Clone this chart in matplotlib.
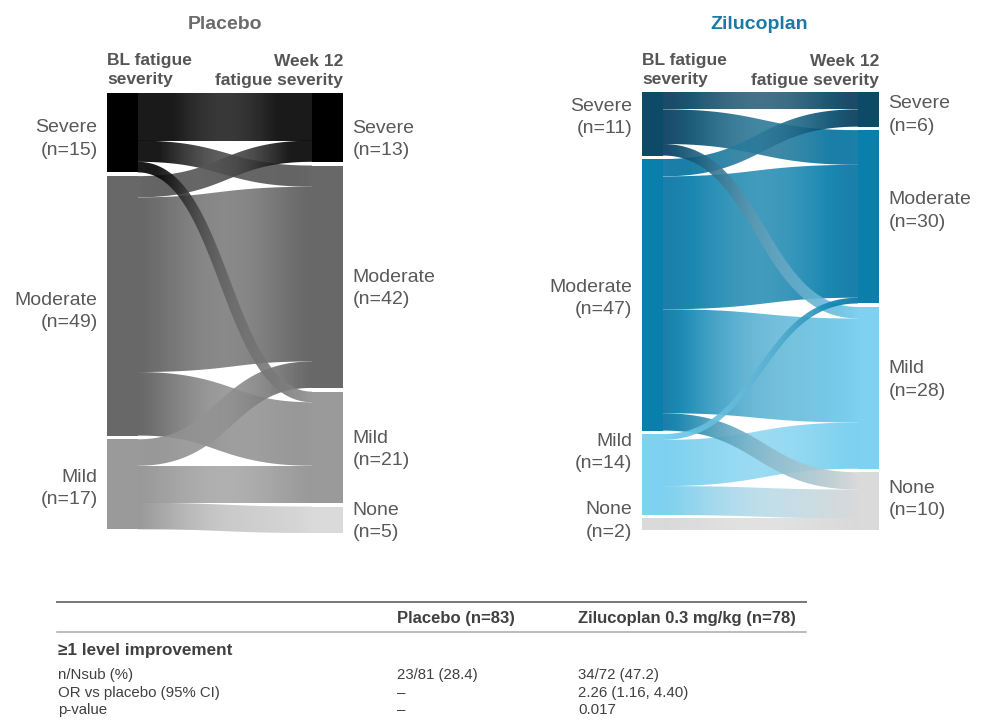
import numpy as np
import matplotlib
matplotlib.use("Agg")
import matplotlib.pyplot as plt
from matplotlib.patches import Polygon, Rectangle
from matplotlib.colors import to_rgb
from matplotlib.lines import Line2D

plt.rcParams["font.family"] = ["Liberation Sans", "DejaVu Sans"]

# ---------------- data ----------------
placebo_bl_levels = ["Severe", "Moderate", "Mild"]
placebo_bl_n = [15, 49, 17]
placebo_wk12_levels = ["Severe", "Moderate", "Mild", "None"]
placebo_wk12_n = [13, 42, 21, 5]
placebo_src = ["Severe", "Severe", "Severe", "Moderate", "Moderate", "Moderate", "Mild", "Mild", "Mild"]
placebo_tgt = ["Severe", "Moderate", "Mild", "Severe", "Moderate", "Mild", "Moderate", "Mild", "None"]
placebo_val = [9, 4, 2, 4, 33, 12, 5, 7, 5]

zil_bl_levels = ["Severe", "Moderate", "Mild", "None"]
zil_bl_n = [11, 47, 14, 2]
zil_wk12_levels = ["Severe", "Moderate", "Mild", "None"]
zil_wk12_n = [6, 30, 28, 10]
zil_src = ["Severe", "Severe", "Severe", "Moderate", "Moderate", "Moderate", "Moderate",
           "Mild", "Mild", "Mild", "None"]
zil_tgt = ["Severe", "Moderate", "Mild", "Severe", "Moderate", "Mild", "None",
           "Moderate", "Mild", "None", "None"]
zil_val = [3, 6, 2, 3, 23, 18, 3, 1, 8, 5, 2]

table_cols = ["", "Placebo (n=83)", "Zilucoplan 0.3 mg/kg (n=78)"]
table_section = "\u22651 level improvement"
table_rows = [
    ["n/Nsub (%)", "23/81 (28.4)", "34/72 (47.2)"],
    ["OR vs placebo (95% CI)", "\u2013", "2.26 (1.16, 4.40)"],
    ["p-value", "\u2013", "0.017"],
]

# ---------------- styles ----------------
placebo_colors = {"Severe": "#000000", "Moderate": "#686868", "Mild": "#9a9a9a", "None": "#dadada"}
zil_colors = {"Severe": "#0d4a68", "Moderate": "#0a7fab", "Mild": "#7ed1f0", "None": "#dadada"}
LABEL_COLOR = "#595959"
HEAD_COLOR = "#555555"
TABLE_COLOR = "#404040"
LINK_ALPHA = 0.9
HIGHLIGHT = 0.22

W, H = 983, 725
fig = plt.figure(figsize=(W / 100, H / 100), dpi=100)

# full-figure overlay in pixel units for titles, headers and the table
ov = fig.add_axes([0, 0, 1, 1], zorder=0)
ov.set_xlim(0, W)
ov.set_ylim(H, 0)
ov.axis("off")


def px_axes(left, top, right, bottom):
    return fig.add_axes([left / W, 1 - bottom / H, (right - left) / W, (bottom - top) / H], zorder=1)


def link_color(c, a=LINK_ALPHA):
    # colour to paint so that, over white, the result shows c
    c = np.asarray(c)
    return np.clip((c - (1 - a)) / a, 0, 1)


def draw_sankey(ax, bl_levels, bl_n, wk_levels, wk_n, src, tgt, val, colors,
                node_w, gap, nudge_l, nudge_r):
    def stack(ns):
        pos, y = [], 0.0
        for n in ns:
            pos.append((y, y + n))
            y += n + gap
        return pos

    left = dict(zip(bl_levels, stack(bl_n)))
    right = dict(zip(wk_levels, stack(wk_n)))
    Htot = max(sum(bl_n) + gap * (len(bl_n) - 1), sum(wk_n) + gap * (len(wk_n) - 1))
    ax.set_xlim(0, 1)
    ax.set_ylim(Htot, 0)
    ax.axis("off")

    bb = ax.get_position()
    sx, sy = bb.width * W, bb.height * H / Htot

    ord_l = {k: i for i, k in enumerate(bl_levels)}
    ord_r = {k: i for i, k in enumerate(wk_levels)}
    links = list(zip(src, tgt, val))
    slot = {}
    off = {k: left[k][0] for k in bl_levels}
    for s in bl_levels:
        for a, b, v in sorted([l for l in links if l[0] == s], key=lambda l: ord_r[l[1]]):
            slot[(a, b)] = [off[s], None]
            off[s] += v
    off = {k: right[k][0] for k in wk_levels}
    for t in wk_levels:
        for a, b, v in sorted([l for l in links if l[1] == t], key=lambda l: ord_l[l[0]]):
            slot[(a, b)][1] = off[t]
            off[t] += v

    x0, x1 = node_w, 1 - node_w
    u = np.linspace(0, 1, 300)
    grad_t = np.linspace(0, 1, 256)
    for a, b, v in sorted(links, key=lambda l: -l[2]):
        ys, yt = slot[(a, b)]
        y0c, y1c = ys + v / 2, yt + v / 2
        P0 = np.array([x0 * sx, y0c * sy])
        P3 = np.array([x1 * sx, y1c * sy])
        xm = (P0[0] + P3[0]) / 2
        P1 = np.array([xm, P0[1]])
        P2 = np.array([xm, P3[1]])
        U = u[:, None]
        B = (1 - U) ** 3 * P0 + 3 * (1 - U) ** 2 * U * P1 + 3 * (1 - U) * U ** 2 * P2 + U ** 3 * P3
        D = 3 * (1 - U) ** 2 * (P1 - P0) + 6 * (1 - U) * U * (P2 - P1) + 3 * U ** 2 * (P3 - P2)
        N = np.stack([-D[:, 1], D[:, 0]], axis=1)
        N /= np.linalg.norm(N, axis=1)[:, None]
        hw = v * sy / 2
        poly = np.vstack([B + hw * N, (B - hw * N)[::-1]])
        poly[:, 0] = np.clip(poly[:, 0] / sx, x0, x1)
        poly[:, 1] /= sy
        patch = Polygon(poly, closed=True, facecolor="none", edgecolor="none")
        ax.add_patch(patch)

        cs, ct = np.array(to_rgb(colors[a])), np.array(to_rgb(colors[b]))
        base = cs[None, :] * (1 - grad_t[:, None]) + ct[None, :] * grad_t[:, None]
        hl = HIGHLIGHT * (np.sin(np.pi * grad_t) ** 1.5)[:, None]
        shown = base + (1 - base) * hl
        rgba = np.ones((1, len(grad_t), 4))
        rgba[0, :, :3] = link_color(shown)
        rgba[0, :, 3] = LINK_ALPHA
        ymin, ymax = poly[:, 1].min(), poly[:, 1].max()
        im = ax.imshow(rgba, extent=(x0, x1, ymax, ymin), aspect="auto",
                       interpolation="bilinear", zorder=2)
        im.set_clip_path(patch)

    for k, n, nd in zip(bl_levels, bl_n, nudge_l):
        y0, y1 = left[k]
        ax.add_patch(Rectangle((0, y0), node_w, y1 - y0, facecolor=colors[k],
                               edgecolor="none", zorder=3))
        ax.annotate(f"{k}\n(n={n})", xy=(0, (y0 + y1) / 2), xycoords=("axes fraction", "data"),
                    xytext=(-6.8, -nd / 1.389), textcoords="offset points",
                    ha="right", va="center", fontsize=14, color=LABEL_COLOR,
                    multialignment="right", linespacing=1.42, annotation_clip=False)
    for k, n, nd in zip(wk_levels, wk_n, nudge_r):
        y0, y1 = right[k]
        ax.add_patch(Rectangle((1 - node_w, y0), node_w, y1 - y0, facecolor=colors[k],
                               edgecolor="none", zorder=3))
        ax.annotate(f"{k}\n(n={n})", xy=(1, (y0 + y1) / 2), xycoords=("axes fraction", "data"),
                    xytext=(6.8, -nd / 1.389), textcoords="offset points",
                    ha="left", va="center", fontsize=14, color=LABEL_COLOR,
                    multialignment="left", linespacing=1.42, annotation_clip=False)
    ax.set_xlim(0, 1)
    ax.set_ylim(Htot, 0)


ax_p = px_axes(107, 93, 343, 533)
draw_sankey(ax_p, placebo_bl_levels, placebo_bl_n, placebo_wk12_levels, placebo_wk12_n,
            placebo_src, placebo_tgt, placebo_val, placebo_colors,
            node_w=31 / 236, gap=0.7,
            nudge_l=[6.5, 5.5, 4], nudge_r=[12, 12, 2.5, 1.5])

ax_z = px_axes(642, 92, 879, 530)
draw_sankey(ax_z, zil_bl_levels, zil_bl_n, zil_wk12_levels, zil_wk12_n,
            zil_src, zil_tgt, zil_val, zil_colors,
            node_w=21 / 237, gap=0.6,
            nudge_l=[-6.5, 3.5, -22, -3], nudge_r=[5.5, -6, -8, -1.5])

# panel titles and column headers
for cx, title, tcol, l, r in [(225, "Placebo", "#6b6b6b", 107, 343),
                              (759, "Zilucoplan", "#1b7aa5", 642, 879)]:
    ov.text(cx, 29, title, ha="center", va="baseline", fontsize=14, fontweight="bold", color=tcol)
    ov.text(l, 65, "BL fatigue", ha="left", va="baseline", fontsize=12.5,
            fontweight="bold", color=HEAD_COLOR)
    ov.text(l, 84, "severity", ha="left", va="baseline", fontsize=12.5,
            fontweight="bold", color=HEAD_COLOR)
    ov.text(r, 66, "Week 12", ha="right", va="baseline", fontsize=12.5,
            fontweight="bold", color=HEAD_COLOR)
    ov.text(r, 85, "fatigue severity", ha="right", va="baseline", fontsize=12.5,
            fontweight="bold", color=HEAD_COLOR)

# summary table
col_x = [58, 397, 578]
ov.add_line(Line2D([57, 806], [602, 602], color="#777777", lw=1.4))
ov.add_line(Line2D([57, 806], [632, 632], color="#aaaaaa", lw=1.1))
for x, t in zip(col_x, table_cols):
    ov.text(x, 623, t, ha="left", va="baseline", fontsize=12, fontweight="bold", color=TABLE_COLOR)
ov.text(col_x[0], 655, table_section, ha="left", va="baseline", fontsize=12.3,
        fontweight="bold", color=TABLE_COLOR)
for row, yb in zip(table_rows, [679, 697, 714]):
    for x, t in zip(col_x, row):
        ov.text(x, yb, t, ha="left", va="baseline", fontsize=10.8, color=TABLE_COLOR)

fig.savefig("out.png", dpi=100)
